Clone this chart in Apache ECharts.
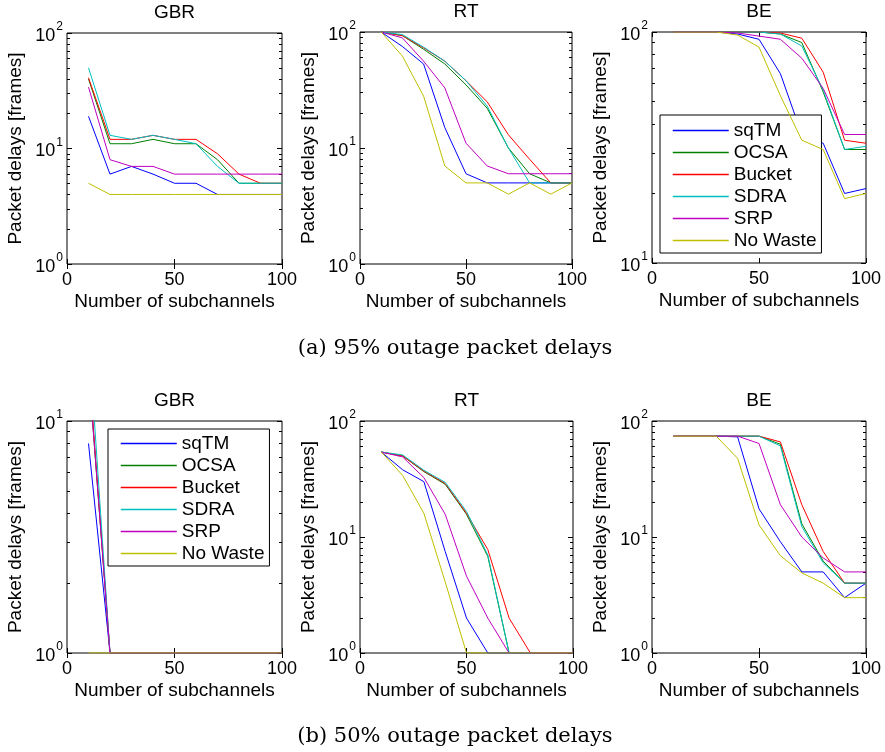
<!DOCTYPE html>
<html>
<head>
<meta charset="utf-8">
<title>Packet delays</title>
<script src="https://cdn.jsdelivr.net/npm/echarts@6/dist/echarts.min.js"></script>
<style>
  html, body { margin: 0; padding: 0; background: #fff; }
  #chart { width: 885px; height: 752px; }
</style>
</head>
<body>
<div id="chart"></div>
<script>
// Number of subchannels (x positions of every curve)
const SUBCHANNELS = [10, 20, 30, 40, 50, 60, 70, 80, 90, 100];
const METHODS = ['sqTM', 'OCSA', 'Bucket', 'SDRA', 'SRP', 'No Waste'];
const COLORS = ['#0000ff', '#008000', '#ff0000', '#00bfbf', '#bf00bf', '#bfbf00'];

// 95% outage packet delays [frames], one row per method (order of METHODS)
const GBR_95 = [
  [19, 6, 7, 6, 5, 5, 4, 4, 4, 4],
  [40, 11, 11, 12, 11, 11, 8, 5, 5, 5],
  [41, 12, 12, 13, 12, 12, 9, 6, 5, 5],
  [50, 13, 12, 13, 12, 11, 7, 5, 5, 5],
  [34, 8, 7, 7, 6, 6, 6, 6, 6, 6],
  [5, 4, 4, 4, 4, 4, 4, 4, 4, 4]
];
const RT_95 = [
  [100, 75, 53, 15, 6, 5, 5, 5, 5, 5],
  [100, 93, 71, 53, 35, 22, 10, 6, 5, 5],
  [100, 93, 73, 56, 38, 25, 13, 8, 5, 5],
  [100, 95, 74, 56, 38, 23, 10, 5, 5, 5],
  [100, 89, 56, 33, 11, 7, 6, 6, 6, 6],
  [100, 62, 28, 7, 5, 5, 4, 5, 4, 5]
];
const BE_95 = [
  [100, 100, 100, 98, 93, 66, 36, 33, 20, 21],
  [100, 100, 100, 100, 100, 98, 90, 55, 31, 31],
  [100, 100, 100, 100, 100, 99, 94, 67, 34, 33],
  [100, 100, 100, 100, 100, 98, 87, 56, 31, 32],
  [100, 100, 100, 99, 96, 93, 77, 57, 36, 36],
  [100, 100, 100, 97, 86, 53, 34, 31, 19, 20]
];

// 50% outage packet delays [frames]
const GBR_50 = [
  [8, 1, 1, 1, 1, 1, 1, 1, 1, 1],
  [17, 1, 1, 1, 1, 1, 1, 1, 1, 1],
  [18, 1, 1, 1, 1, 1, 1, 1, 1, 1],
  [24, 1, 1, 1, 1, 1, 1, 1, 1, 1],
  [17, 1, 1, 1, 1, 1, 1, 1, 1, 1],
  [1, 1, 1, 1, 1, 1, 1, 1, 1, 1]
];
const RT_50 = [
  [54, 38, 30, 7.5, 2, 1, 1, 1, 1, 1],
  [54, 50, 36.6, 28.5, 15.7, 6.8, 1, 1, 1, 1],
  [54, 50, 37, 29, 16, 7.8, 2, 1, 1, 1],
  [54, 51, 37.6, 29.6, 16.6, 7, 1, 1, 1, 1],
  [54, 49, 32.5, 15.7, 4.6, 2, 1, 1, 1, 1],
  [54, 34, 16, 4.1, 1, 1, 1, 1, 1, 1]
];
const BE_50 = [
  [74, 74, 74, 73, 17.5, 9.1, 5, 5, 3, 4],
  [74, 74, 74, 74, 74, 63, 13, 6.2, 4, 4],
  [74, 74, 74, 74, 74, 66, 19, 7.5, 4, 4],
  [74, 74, 74, 74, 74, 61, 12.3, 6, 4, 4],
  [74, 74, 74, 74, 64, 19, 10, 6.6, 5, 5],
  [74, 74, 74, 47.7, 12.7, 6.9, 4.9, 4, 3, 3]
];

const TITLES = ['GBR', 'RT', 'BE', 'GBR', 'RT', 'BE'];
const Y_RANGES = [[1, 100], [1, 100], [10, 100], [1, 10], [1, 100], [1, 100]];
const PANEL_DATA = [GBR_95, RT_95, BE_95, GBR_50, RT_50, BE_50];
const CAPTIONS = ['(a) 95% outage packet delays', '(b) 50% outage packet delays'];

// Plot-area boxes (px)
const BOXES = [
  { left: 67, top: 33, width: 215, height: 231 },
  { left: 360, top: 32, width: 212, height: 232 },
  { left: 652, top: 32, width: 214, height: 231 },
  { left: 67, top: 421, width: 215, height: 232 },
  { left: 360, top: 421, width: 213, height: 232 },
  { left: 652, top: 421, width: 214, height: 232 }
];

const FONT = 'Liberation Sans';
const TICK_STYLE = { color: '#000', width: 1 };

function minorLogValues(lo, hi) {
  const out = [];
  for (let d = Math.floor(Math.log10(lo)); d < Math.round(Math.log10(hi)); d++) {
    for (let k = 2; k <= 9; k++) out.push(Math.log10(k) + d);
  }
  return out;
}
function majorLogValues(lo, hi) {
  const out = [];
  for (let d = Math.round(Math.log10(lo)); d <= Math.round(Math.log10(hi)); d++) out.push(d);
  return out;
}

const grids = [], xAxes = [], yAxes = [], series = [], graphics = [];

BOXES.forEach((b, g) => {
  grids.push(Object.assign({
    show: true, borderColor: '#000', borderWidth: 1, backgroundColor: '#fff',
    outerBoundsMode: 'none', containLabel: false
  }, b));

  const [lo, hi] = Y_RANGES[g];
  const llo = Math.log10(lo), lhi = Math.log10(hi);

  // bottom x axis with labels and name
  xAxes.push({
    type: 'value', gridIndex: g, min: 0, max: 100, interval: 50,
    axisLine: { show: false },
    axisTick: { show: true, inside: true, length: 5, lineStyle: TICK_STYLE },
    splitLine: { show: false },
    axisLabel: { show: true, color: '#000', fontFamily: FONT, fontSize: 18, margin: 7,
                 showMinLabel: true, showMaxLabel: true },
    name: 'Number of subchannels', nameLocation: 'middle', nameGap: 28,
    nameTextStyle: { color: '#000', fontFamily: FONT, fontSize: 19 }
  });
  // top x axis: ticks only
  xAxes.push({
    type: 'value', gridIndex: g, position: 'top', min: 0, max: 100, interval: 50,
    axisLine: { show: false },
    axisTick: { show: true, inside: true, length: 5, lineStyle: TICK_STYLE },
    splitLine: { show: false }, axisLabel: { show: false }
  });

  const mainY = yAxes.length;
  // main logarithmic y axis
  yAxes.push({
    type: 'log', logBase: 10, gridIndex: g, min: lo, max: hi,
    axisLine: { show: false },
    axisTick: { show: true, inside: true, length: 5, lineStyle: TICK_STYLE },
    splitLine: { show: false }, minorTick: { show: false },
    axisLabel: {
      show: true, margin: 4, showMinLabel: true, showMaxLabel: true,
      formatter: v => '{b|10}{s|' + Math.round(Math.log10(v)) + '}',
      rich: {
        b: { fontFamily: FONT, fontSize: 18, color: '#000', lineHeight: 24, verticalAlign: 'bottom' },
        s: { fontFamily: FONT, fontSize: 12, color: '#000', lineHeight: 12, verticalAlign: 'top', padding: [0, 0, 0, 1] }
      }
    },
    name: 'Packet delays [frames]', nameLocation: 'middle', nameGap: 42,
    nameTextStyle: { color: '#000', fontFamily: FONT, fontSize: 19 }
  });
  // minor decade ticks on both sides, major ticks on the right
  const deco = (pos, values, len) => ({
    type: 'value', gridIndex: g, position: pos, min: llo, max: lhi,
    axisLine: { show: false }, splitLine: { show: false }, axisLabel: { show: false },
    axisTick: { show: true, inside: true, length: len, lineStyle: TICK_STYLE, customValues: values }
  });
  yAxes.push(deco('left', minorLogValues(lo, hi), 3));
  yAxes.push(deco('right', minorLogValues(lo, hi), 3));
  yAxes.push(deco('right', majorLogValues(lo, hi), 5));

  PANEL_DATA[g].forEach((vals, m) => {
    series.push({
      type: 'line', name: METHODS[m], xAxisIndex: 2 * g, yAxisIndex: mainY,
      data: SUBCHANNELS.map((x, i) => [x, vals[i]]),
      symbol: 'none', showSymbol: false, clip: true, animation: false,
      color: COLORS[m], lineStyle: { width: 1, color: COLORS[m] }, z: 2 + m
    });
  });

  graphics.push({
    type: 'text', x: b.left + b.width / 2, y: b.top - 20,
    style: { text: TITLES[g], fontFamily: FONT, fontSize: 19, fill: '#000', align: 'center', verticalAlign: 'middle' }
  });
});

graphics.push({
  type: 'text', x: 455, y: 349,
  style: { text: CAPTIONS[0], fontFamily: 'DejaVu Serif', fontSize: 21, fill: '#000', align: 'center', verticalAlign: 'middle' }
});
graphics.push({
  type: 'text', x: 455, y: 737,
  style: { text: CAPTIONS[1], fontFamily: 'DejaVu Serif', fontSize: 21, fill: '#000', align: 'center', verticalAlign: 'middle' }
});

const legendBase = {
  data: METHODS, orient: 'vertical', itemWidth: 56, itemHeight: 19, itemGap: 3,
  backgroundColor: '#fff', borderColor: '#000', borderWidth: 1, borderRadius: 0,
  itemStyle: { opacity: 0 },
  lineStyle: { width: 1.5 },
  textStyle: { fontFamily: FONT, fontSize: 19, color: '#000' },
  selectedMode: false
};

const option = {
  backgroundColor: '#fff',
  animation: false,
  grid: grids,
  xAxis: xAxes,
  yAxis: yAxes,
  series: series,
  legend: [
    Object.assign({ left: 660, top: 115, padding: [6, 5, 3, 12] }, legendBase),
    Object.assign({ left: 108, top: 429, padding: [5, 5, 3, 12] }, legendBase)
  ],
  graphic: graphics
};

const chart = echarts.init(document.getElementById('chart'), null, { renderer: 'canvas' });
chart.setOption(option);
</script>
</body>
</html>
